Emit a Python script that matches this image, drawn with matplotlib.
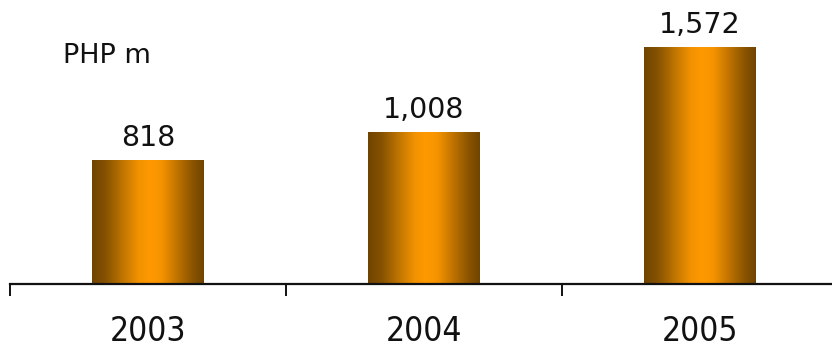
import numpy as np
import matplotlib.pyplot as plt
from matplotlib.colors import LinearSegmentedColormap

# values
years = ['2003', '2004', '2005']
revenue = [818, 1008, 1572]
value_labels = ['818', '1,008', '1,572']
unit_label = 'PHP m'

fig = plt.figure(figsize=(8.32, 3.47), dpi=100)
ax = fig.add_axes([10 / 832, 63 / 347, 828 / 832, 284 / 347])

x = np.arange(len(years))
bars = ax.bar(x, revenue, width=0.405, color='none', edgecolor='none')

# horizontal bronze -> orange -> bronze shading for each bar
cmap = LinearSegmentedColormap.from_list(
    'bronze', [(0.0, '#704400'), (0.12, '#865200'), (0.28, '#c27600'),
               (0.42, '#f39300'), (0.52, '#ff9900'), (0.62, '#f59400'),
               (0.78, '#b86f00'), (0.9, '#8a5400'), (1.0, '#704400')])
grad = np.linspace(0, 1, 256).reshape(1, -1)
for b in bars:
    x0, w, h = b.get_x(), b.get_width(), b.get_height()
    ax.imshow(grad, cmap=cmap, aspect='auto', interpolation='bilinear',
              extent=(x0, x0 + w, 0, h), zorder=2)

for xi, v, lab in zip(x, revenue, value_labels):
    ax.annotate(lab, (xi, v), xytext=(0, 10.5), textcoords='offset points',
                ha='center', va='baseline', fontsize=20.5, color='#111111',
                family='DejaVu Sans')

ax.set_xlim(-0.5, 2.5)
ax.set_ylim(0, 1887)

for s in ['top', 'right', 'left']:
    ax.spines[s].set_visible(False)
ax.spines['bottom'].set_linewidth(1.6)
ax.spines['bottom'].set_color('#111111')
ax.set_yticks([])

ax.set_xticks(x)
ax.set_xticklabels(years, family='DejaVu Sans', fontstretch='condensed',
                   fontsize=24, color='#111111')
ax.tick_params(axis='x', which='major', length=0, pad=22.5)
ax.set_xticks([-0.5, 0.5, 1.5, 2.5], minor=True)
ax.tick_params(axis='x', which='minor', length=8.5, width=1.4, color='#111111')

fig.text(63 / 832, (347 - 63) / 347, unit_label, ha='left', va='baseline',
         fontsize=19.5, family='DejaVu Sans', color='#111111')

fig.savefig('out.png', dpi=100)
